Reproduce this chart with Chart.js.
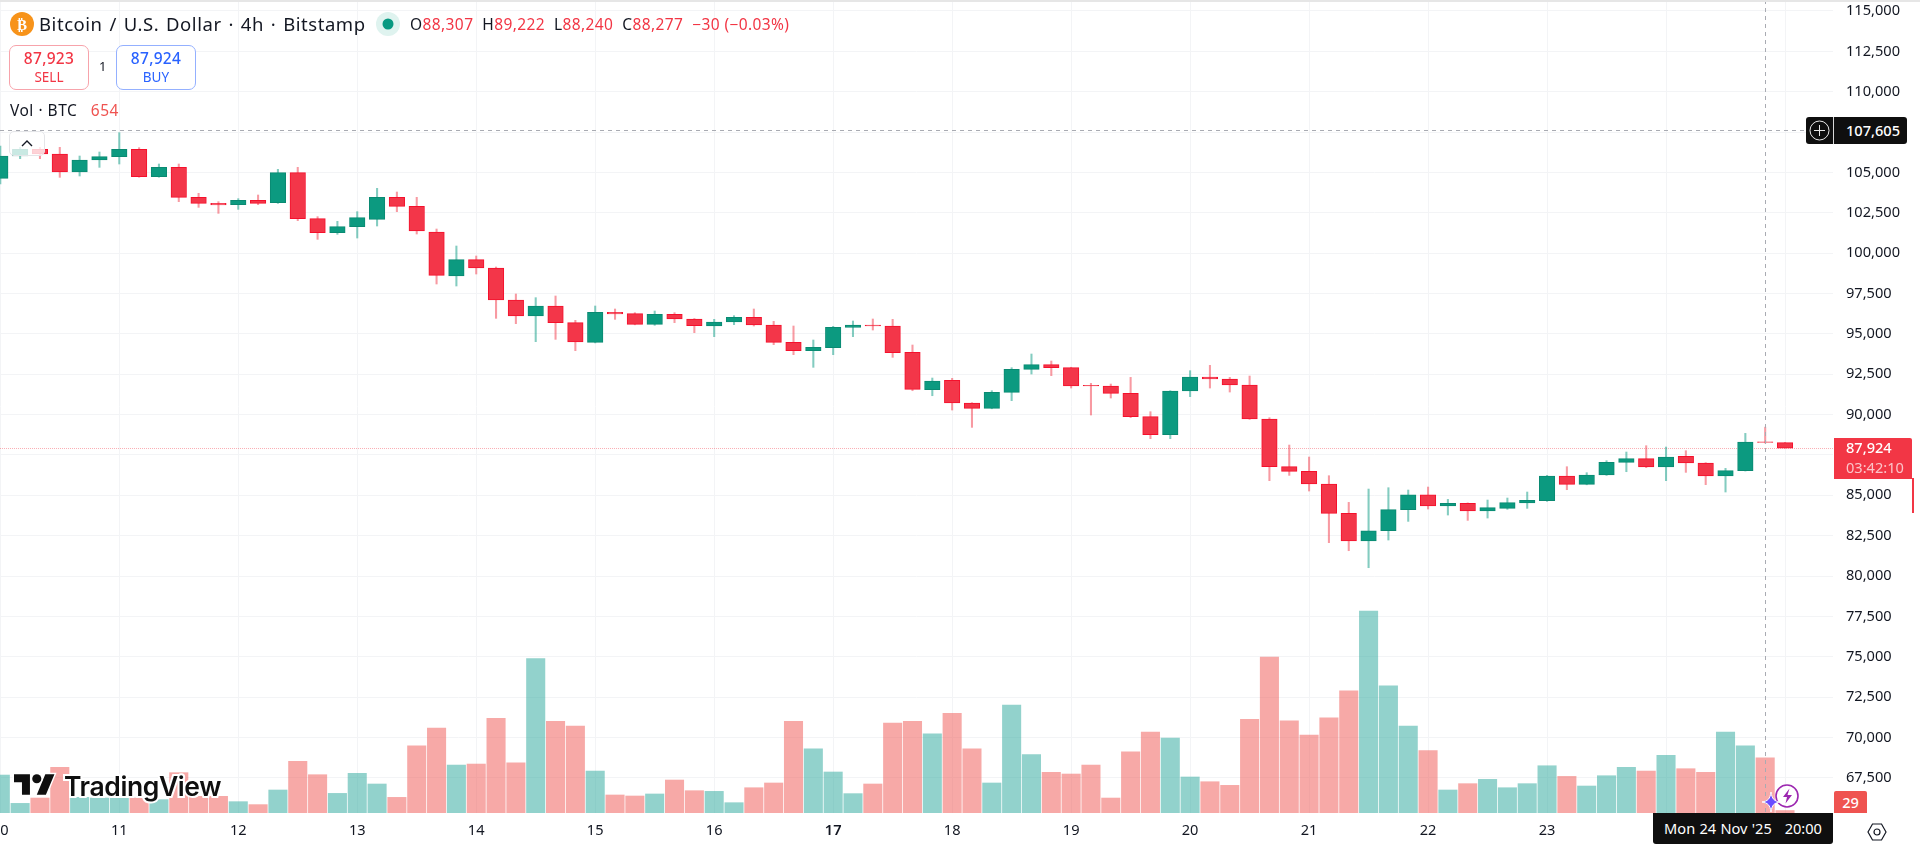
<!DOCTYPE html>
<html lang="en">
<head>
<meta charset="utf-8">
<title>BTCUSD 4h</title>
<script src="https://cdn.jsdelivr.net/npm/chart.js@4"></script>
<style>
    html, body { margin: 0; padding: 0; background: #fff; overflow: hidden; }
    body { width: 1920px; height: 846px; position: relative; font-family: "Noto Sans", sans-serif; color: #131722; }
    canvas { position: absolute; left: 0; top: 0; }
    .abs { position: absolute; white-space: nowrap; }
    .red { color: #f23645; }
    .order-btn { position: absolute; top: 45px; width: 78px; height: 43px; border-radius: 7px; background: #fff; text-align: center; font-size: 15px; line-height: 19px; box-sizing: content-box; }
    .order-btn b { display: block; font-weight: 500; margin-top: 3px; font-size: 15.5px; letter-spacing: 0.3px; }
    .order-btn span { display: block; font-size: 13.5px; }
</style>
</head>
<body>
<canvas id="priceChart" width="1920" height="846"></canvas>

<div class="abs" style="left:0;top:0;width:1920px;height:2px;background:#e6e6e6"></div>

<!-- symbol header -->
<svg class="abs" style="left:10px;top:12px" width="24" height="24" viewBox="0 0 24 24">
    <circle cx="12" cy="12" r="12" fill="#f7931a"/>
    <text x="12" y="17.5" text-anchor="middle" font-size="15" font-weight="700" fill="#fff" font-family="DejaVu Sans">₿</text>
</svg>
<div class="abs" style="left:39px;top:11px;font-size:18.5px;line-height:26px;letter-spacing:0.55px;word-spacing:1.5px">Bitcoin / U.S. Dollar · 4h · Bitstamp</div>
<svg class="abs" style="left:376px;top:12px" width="24" height="24" viewBox="0 0 24 24">
    <circle cx="12" cy="12" r="12" fill="#dff3ef"/>
    <circle cx="12" cy="12" r="5.5" fill="#089981"/>
</svg>
<div class="abs" style="left:410px;top:13px;font-size:15.5px;line-height:22px;letter-spacing:0.4px">
    O<span class="red">88,307</span>&nbsp; H<span class="red">89,222</span>&nbsp; L<span class="red">88,240</span>&nbsp; C<span class="red">88,277</span>&nbsp; <span class="red">−30 (−0.03%)</span>
</div>

<div class="order-btn red" style="left:9px;border:1px solid #f7a3ab"><b>87,923</b><span>SELL</span></div>
<div class="abs" style="left:99px;top:56px;font-size:13px;line-height:20px">1</div>
<div class="order-btn" style="left:116px;color:#2962ff;border:1px solid #94b0ff"><b>87,924</b><span>BUY</span></div>

<div class="abs" style="left:10px;top:99px;font-size:15.5px;line-height:22px;letter-spacing:0.5px">Vol · BTC&nbsp;&nbsp; <span style="color:#ef5350">654</span></div>

<!-- collapse button sits over the first candles -->
<div class="abs" style="left:9px;top:131px;width:36px;height:25px;border:1px solid #e4e5e8;border-radius:5px;background:rgba(255,255,255,0.78);box-sizing:border-box"></div>
<svg class="abs" style="left:20px;top:139px" width="14" height="9" viewBox="0 0 14 9">
    <path d="M2 7 L7 2 L12 7" fill="none" stroke="#131722" stroke-width="1.4"/>
</svg>

<!-- crosshair price tag -->
<div class="abs" style="left:1806px;top:117px;width:101px;height:27px;background:#0f0f0f;border-radius:3px"></div>
<div class="abs" style="left:1833px;top:117px;width:1px;height:27px;background:#d8d8d8"></div>
<svg class="abs" style="left:1808px;top:119px" width="23" height="23" viewBox="0 0 23 23">
    <circle cx="11.5" cy="11.5" r="9.5" fill="none" stroke="#e8e8e8" stroke-width="1"/>
    <path d="M11.5 6 V17 M6 11.5 H17" stroke="#e8e8e8" stroke-width="1"/>
</svg>
<div class="abs" style="left:1846px;top:120px;font-size:14.6px;line-height:21px;color:#fff;font-weight:500">107,605</div>

<!-- last price tag with countdown -->
<div class="abs" style="left:1834px;top:438px;width:78px;height:41px;background:#f23645;border-radius:0 2px 0 0"></div>
<div class="abs" style="left:1846px;top:437px;font-size:14.6px;line-height:21px;color:#fff;font-weight:500">87,924</div>
<div class="abs" style="left:1846px;top:457px;font-size:14.6px;line-height:21px;color:#fbc4c9">03:42:10</div>
<div class="abs" style="left:1912px;top:478px;width:1.5px;height:35px;background:#f23645"></div>

<!-- last volume tag -->
<div class="abs" style="left:1834px;top:791px;width:33px;height:22px;background:#ef5350;border-radius:2px 2px 0 0;text-align:center;color:#fff;font-size:14.6px;line-height:22px;font-weight:500">29</div>

<!-- crosshair time tag -->
<div class="abs" style="left:1653px;top:813px;width:180px;height:31px;background:#0f0f0f;border-radius:0 0 3px 3px;color:#fff;font-size:14.6px;line-height:31px;text-align:center;word-spacing:0.5px">Mon 24 Nov '25&nbsp;&nbsp; 20:00</div>

<!-- settings hexagon -->
<svg class="abs" style="left:1867px;top:822px" width="20" height="20" viewBox="0 0 20 20">
    <path d="M5.5 2 H14.5 L19 10 L14.5 18 H5.5 L1 10 Z" fill="none" stroke="#131722" stroke-width="1.2"/>
    <circle cx="10" cy="10" r="3" fill="none" stroke="#131722" stroke-width="1.2"/>
</svg>

<!-- assistant badge -->
<svg class="abs" style="left:1762px;top:782px" width="40" height="30" viewBox="0 0 40 30">
    <circle cx="25" cy="14" r="11" fill="#fff" fill-opacity="0.7" stroke="#9c27b0" stroke-width="1.6"/>
    <path d="M27.5 6.5 L21 15 H25 L23.5 21.5 L30 13 H25.5 Z" fill="#9c27b0"/>
    <path d="M9 10 C10 17 12 19 18 20 C12 21 10 23 9 30 C8 23 6 21 0 20 C6 19 8 17 9 10 Z" fill="#6a4dff" stroke="#fff" stroke-width="1"/>
</svg>

<!-- watermark -->
<svg class="abs" style="left:14px;top:773px;overflow:visible" width="41" height="23" viewBox="0 3 36 20">
    <path d="M14 22H7V11H0V4h14v18zM28 22h-8l7.5-18h8L28 22z" fill="#0f0f0f" stroke="#fff" stroke-width="2.5" paint-order="stroke"/>
    <circle cx="20" cy="8" r="4" fill="#0f0f0f" stroke="#fff" stroke-width="2.5" paint-order="stroke"/>
</svg>
<div class="abs" style="left:64px;top:768px;font-family:Inter,sans-serif;font-weight:600;font-size:26.5px;line-height:36px;letter-spacing:-0.4px;color:#0f0f0f;-webkit-text-stroke:4px #fff;paint-order:stroke fill">TradingView</div>

<script>
// 4h candles, 10 Nov to 25 Nov
const opens = [
    104634, 106017, 106430, 106141, 105026, 105769, 105976, 106430, 104737, 105315,
    103457, 103085, 103002, 103271, 103126, 104985, 102135, 101268, 101640, 102094,
    103457, 102899, 101309, 98583, 99595, 99079, 97097, 96106, 96725, 95693,
    94475, 96333, 96250, 95589, 96209, 95920, 95486, 95734, 96023, 95548,
    94474, 93958, 94144, 95404, 95548, 95486, 93860, 91540, 92122, 90715,
    90385, 91376, 92801, 93090, 92904, 91810, 91768, 91314, 89869, 88753,
    91459, 92326, 92202, 91830, 89724, 86771, 86482, 85697, 83880, 82166,
    82806, 84107, 85036, 84334, 84499, 84024, 84190, 84520, 84665, 86193,
    85677, 86255, 87039, 87267, 86750, 87411, 86998, 86193, 86523, 88307,
    88258
];
const highs = [
    106637, 106554, 106554, 106554, 106017, 106265, 107463, 106534, 105522, 105522,
    103705, 103188, 103374, 103601, 105191, 105315, 102259, 101970, 102569, 104014,
    103787, 103457, 101495, 100442, 99822, 99141, 97469, 97242, 97345, 95838,
    96725, 96539, 96312, 96415, 96312, 95950, 95899, 96126, 96539, 95775,
    95486, 94619, 95466, 95796, 95920, 95899, 94309, 92264, 92246, 90736,
    91479, 92904, 93751, 93317, 92930, 91934, 91892, 92305, 90178, 91480,
    92718, 93049, 92305, 92388, 89807, 88113, 87370, 86213, 84562, 85387,
    85470, 85326, 85511, 84747, 84530, 84706, 84830, 85202, 86234, 86771,
    86399, 87143, 87680, 88072, 87989, 87762, 87020, 86668, 88836, 89222,
    88277
];
const lows = [
    104283, 105852, 105852, 104696, 104778, 105315, 105522, 104700, 104700, 103188,
    102837, 102465, 102713, 103002, 103080, 102011, 100855, 101165, 100937, 101681,
    102569, 101185, 98088, 97964, 98707, 95961, 95631, 94516, 94660, 93958,
    94440, 95899, 95560, 95528, 95693, 95073, 94825, 95568, 95486, 94330,
    93710, 92926, 93710, 94825, 95238, 93545, 91478, 91168, 90282, 89208,
    90360, 90860, 92512, 92408, 91644, 89972, 91025, 89807, 88506, 88506,
    91107, 91644, 91397, 89700, 85904, 86234, 85264, 82063, 81567, 80514,
    82228, 83384, 84149, 83777, 83446, 83591, 84128, 84190, 84623, 85346,
    85650, 86230, 86461, 86709, 85904, 86420, 85656, 85202, 86500, 88240,
    87924
];
const closes = [
    106017, 106430, 106141, 105026, 105769, 105976, 106430, 104737, 105315, 103457,
    103085, 102982, 103271, 103085, 104985, 102135, 101268, 101640, 102197, 103457,
    102899, 101371, 98625, 99595, 99079, 97097, 96106, 96725, 95693, 94495,
    96333, 96230, 95589, 96209, 95920, 95507, 95734, 96023, 95548, 94474,
    93958, 94165, 95404, 95548, 95486, 93834, 91564, 92078, 90716, 90385,
    91376, 92801, 93090, 92904, 91768, 91768, 91314, 89869, 88753, 91459,
    92326, 92202, 91830, 89724, 86771, 86482, 85697, 83880, 82166, 82806,
    84107, 85036, 84334, 84499, 84024, 84231, 84541, 84685, 86193, 85677,
    86255, 87039, 87267, 86750, 87370, 86998, 86193, 86523, 88299, 88277,
    87924
];
const volumes = [
    449, 114, 177, 540, 185, 177, 177, 177, 158, 477,
    197, 197, 134, 99, 272, 611, 453, 232, 469, 343,
    185, 796, 1005, 567, 579, 1119, 595, 1828, 1084, 1028,
    496, 213, 201, 225, 390, 264, 256, 122, 299, 355,
    1084, 760, 485, 229, 343, 1064, 1084, 938, 1178, 760,
    355, 1277, 690, 481, 461, 567, 177, 725, 957, 887,
    426, 370, 327, 1107, 1844, 1091, 922, 1127, 1446, 2388,
    1505, 1028, 737, 272, 347, 398, 299, 347, 559, 433,
    319, 441, 540, 496, 682, 524, 481, 957, 796, 654,
    29
];

const priceTicks = [
    115000, 112500, 110000, 105000, 102500, 100000, 97500, 95000, 92500, 90000,
    85000, 82500, 80000, 77500, 75000, 72500, 70000, 67500
];
const priceGrid = [107500, 87500];
const dayTicks = [0, 6, 12, 18, 24, 30, 36, 42, 48, 54, 60, 66, 72, 78, 84, 90];
const dayLabels = ['10', '11', '12', '13', '14', '15', '16', '17', '18', '19', '20', '21', '22', '23', '24', '25'];

const crossPrice = 107605;
const crossIndex = 89;
const lastPrice = 87924;

const FONT = '"Noto Sans", sans-serif';
const UP = '#0c9a80';
const DOWN = '#f33649';

const isUp = i => closes[i] >= opens[i];

const wickData = highs.map((h, i) => ({ x: i, y: [lows[i], h] }));
const bodyData = opens.map((o, i) => ({ x: i, y: [o, closes[i]] }));
const volumeData = volumes.map((v, i) => ({ x: i, y: v }));

// lines that follow the scales: the last price under the candles, the crosshair above them
const markerLines = {
    id: 'markerLines',
    beforeDatasetsDraw(chart) {
        const { ctx, chartArea, scales } = chart;
        const y = Math.round(scales.y.getPixelForValue(lastPrice)) + 0.5;
        ctx.save();
        ctx.strokeStyle = 'rgba(242, 54, 69, 0.4)';
        ctx.setLineDash([1, 1]);
        ctx.beginPath();
        ctx.moveTo(chartArea.left, y);
        ctx.lineTo(chartArea.right, y);
        ctx.stroke();
        ctx.restore();
    },
    afterDatasetsDraw(chart) {
        const { ctx, chartArea, scales } = chart;
        const x = Math.round(scales.x.getPixelForValue(crossIndex)) + 0.5;
        const y = Math.round(scales.y.getPixelForValue(crossPrice)) + 0.5;
        ctx.save();
        ctx.strokeStyle = '#a9abb2';
        ctx.setLineDash([4, 4]);
        ctx.beginPath();
        ctx.moveTo(chartArea.left, y);
        ctx.lineTo(chartArea.right, y);
        ctx.moveTo(x, chartArea.top);
        ctx.lineTo(x, chartArea.bottom);
        ctx.stroke();
        ctx.restore();
    }
};

new Chart(document.getElementById('priceChart'), {
    type: 'bar',
    data: {
        datasets: [
            {
                label: 'Body',
                data: bodyData,
                yAxisID: 'y',
                order: 1,
                grouped: false,
                barThickness: 15.5,
                maxBarThickness: 15.5,
                backgroundColor: opens.map((o, i) => isUp(i) ? UP : DOWN),
                borderColor: opens.map((o, i) => isUp(i) ? '#0a8a72' : '#f5102c'),
                borderWidth: 1,
                borderSkipped: false
            },
            {
                label: 'Wick',
                data: wickData,
                yAxisID: 'y',
                order: 2,
                grouped: false,
                barThickness: 1.4,
                maxBarThickness: 1.4,
                backgroundColor: opens.map((o, i) => isUp(i) ? 'rgba(8, 153, 129, 0.5)' : 'rgba(242, 54, 69, 0.5)'),
                borderWidth: 0
            },
            {
                label: 'Volume',
                data: volumeData,
                yAxisID: 'yVol',
                order: 3,
                grouped: false,
                barThickness: 18.4,
                maxBarThickness: 18.4,
                backgroundColor: opens.map((o, i) => isUp(i) ? 'rgba(38, 166, 154, 0.5)' : 'rgba(239, 83, 80, 0.5)'),
                borderWidth: 0
            }
        ]
    },
    options: {
        responsive: false,
        animation: false,
        layout: { padding: 0 },
        plugins: {
            legend: { display: false },
            tooltip: { enabled: false }
        },
        scales: {
            x: {
                type: 'linear',
                offset: false,
                min: -0.015,
                max: 92.42,
                grid: { color: '#f3f4f6', drawTicks: false, offset: false },
                border: { display: false },
                afterBuildTicks: scale => {
                    scale.ticks = dayTicks.map(v => ({ value: v }));
                },
                afterFit: scale => {
                    scale.height = 33;
                    scale.paddingLeft = 0;
                    scale.paddingRight = 0;
                },
                ticks: {
                    autoSkip: false,
                    maxRotation: 0,
                    padding: 9,
                    color: '#131722',
                    font: ctx => ({
                        family: FONT,
                        size: 14.6,
                        weight: ctx.tick && ctx.tick.label === '17' ? '600' : '400'
                    }),
                    callback: (value, index) => dayLabels[index]
                }
            },
            y: {
                position: 'right',
                min: 65319,
                max: 115681,
                grid: { color: '#f3f4f6', drawTicks: false },
                border: { display: false },
                afterBuildTicks: scale => {
                    scale.ticks = priceTicks.concat(priceGrid).map(v => ({ value: v }));
                },
                afterFit: scale => {
                    scale.width = 87;
                    scale.paddingTop = 0;
                    scale.paddingBottom = 0;
                },
                ticks: {
                    autoSkip: false,
                    padding: 13,
                    color: '#131722',
                    font: { family: FONT, size: 14.6 },
                    // the 107,500 and 87,500 rows keep their grid line but carry no label
                    callback: value => priceGrid.includes(value) ? '' : value.toLocaleString('en-US')
                }
            },
            yVol: {
                display: false,
                min: 0,
                max: 9618
            }
        }
    },
    plugins: [markerLines]
});
</script>
</body>
</html>
